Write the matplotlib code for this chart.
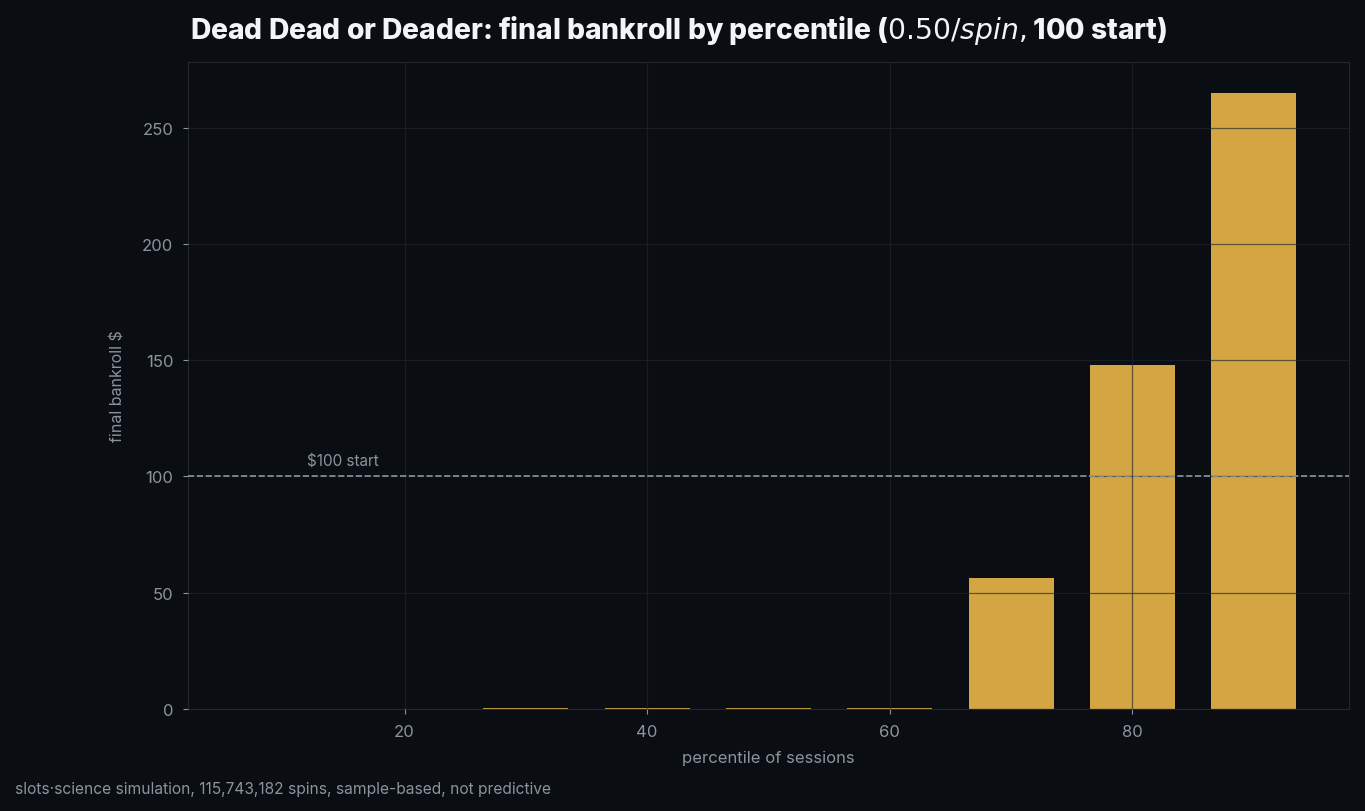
import matplotlib
matplotlib.use("Agg")
import matplotlib.pyplot as plt
import numpy as np

# Chart data
percentiles = [10, 20, 30, 40, 50, 60, 70, 80, 90]
bankroll = [0.0, 0.0, 0.3, 0.3, 0.3, 0.3, 56.3, 148.0, 265.0]
start_bankroll = 100
title = "Dead Dead or Deader: final bankroll by percentile ($0.50/spin, $100 start)"
footer = "slots·science simulation, 115,743,182 spins, sample-based, not predictive"

# Colours
BG = "#0a0d12"
BAR = "#d3a643"
TEXT = "#8b949e"
GRID = "#20262e"

plt.rcParams["font.family"] = ["Inter", "DejaVu Sans"]

fig = plt.figure(figsize=(13.65, 8.12), dpi=100, facecolor=BG)
ax = fig.add_axes([0.1377, 0.1256, 0.8506, 0.7968], facecolor=BG)

ax.bar(percentiles, bankroll, width=7, color=BAR, zorder=1)
ax.axhline(start_bankroll, color="#8b95a3", linestyle="--", linewidth=1.2, zorder=3)
ax.text(12, start_bankroll + 3.5, "$100 start", color=TEXT, fontsize=11, va="bottom", ha="left")

# Grid drawn above the bars
ax.set_axisbelow(False)
ax.grid(True, color=GRID, linewidth=0.9, alpha=0.65, zorder=2)

ax.set_xlabel("percentile of sessions", color=TEXT, fontsize=12, labelpad=8)
ax.set_ylabel("final bankroll $", color=TEXT, fontsize=11.5, labelpad=12)
ax.tick_params(colors=TEXT, labelsize=12, length=3.5, pad=7)
for spine in ax.spines.values():
    spine.set_color("#22272e")

fig.text(0.139, 0.963, title, color="#f2f4f7", fontsize=20.3, fontweight="heavy",
         ha="left", va="center")
fig.text(0.011, 0.028, footer, color=TEXT, fontsize=11.2, ha="left", va="center")

fig.savefig("out.png", dpi=100, facecolor=BG)
